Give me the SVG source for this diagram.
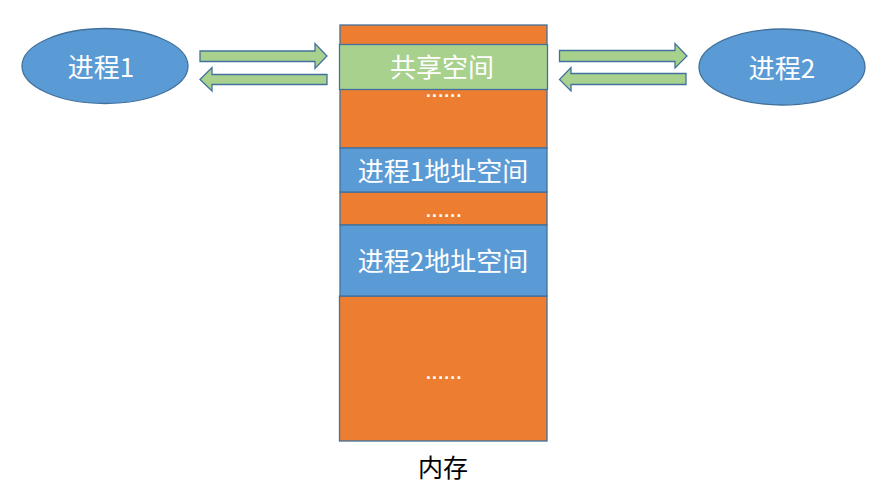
<svg xmlns="http://www.w3.org/2000/svg" width="880" height="499" viewBox="0 0 880 499">
<style>
.o{fill:#ED7D31;stroke:#41719C;stroke-width:1.3}
.b{fill:#5B9BD5;stroke:#41719C;stroke-width:1.3}
.g{fill:#A9D18E;stroke:#41719C;stroke-width:1.3}
.a{fill:#A9D18E;stroke:#41719C;stroke-width:1.3}
.t{font-family:"Noto Sans CJK SC","Liberation Sans",sans-serif;fill:#ffffff;text-anchor:middle;font-size:26px}
.d{font-family:"DejaVu Sans",sans-serif;fill:#ffffff;text-anchor:middle;font-size:14px;font-weight:bold;letter-spacing:0.8px}
</style>
<rect width="880" height="499" fill="#ffffff"/>
<g id="memory">
<rect class="o" x="340" y="25" width="207" height="20"/>
<rect class="o" x="340" y="89" width="207" height="59"/>
<rect class="o" x="340" y="192" width="207" height="33"/>
<rect class="o" x="339.5" y="296" width="207.5" height="145"/>
<text class="d" x="444" y="97">......</text>
<text class="d" x="444" y="217">......</text>
<text class="d" x="444" y="379">......</text>
<text x="443" y="477" font-family="Noto Sans CJK SC,sans-serif" font-size="25" text-anchor="middle" fill="#000000">内存</text>
</g>
<g id="shared">
<rect class="g" x="339.5" y="44.5" width="208" height="45"/>
<text class="t" x="442" y="76.5">共享空间</text>
</g>
<g id="p1space">
<rect class="b" x="340" y="148" width="207" height="44"/>
<text class="t" x="443" y="181">进程1地址空间</text>
</g>
<g id="p2space">
<rect class="b" x="340" y="225" width="207" height="71"/>
<text class="t" x="443" y="271">进程2地址空间</text>
</g>
<g id="proc1">
<ellipse class="b" cx="105" cy="66" rx="83" ry="37.5"/>
<text class="t" x="101" y="77" font-size="27">进程1</text>
</g>
<g id="proc2">
<ellipse class="b" cx="782" cy="67" rx="83" ry="38"/>
<text class="t" x="782" y="78" font-size="27">进程2</text>
</g>
<g id="connectors">
<polygon class="a" points="200,51 315,51 315,43.5 327,56 315,68.5 315,61.5 200,61.5"/>
<polygon class="a" points="327,74.5 212,74.5 212,67.5 200,79.5 212,91 212,84.5 327,84.5"/>
<polygon class="a" points="559.5,50.5 675,50.5 675,43.5 687,56 675,68 675,61.5 559.5,61.5"/>
<polygon class="a" points="686,73.5 571,73.5 571,67.5 559.5,79.5 571,91 571,84.5 686,84.5"/>
</g>
</svg>
